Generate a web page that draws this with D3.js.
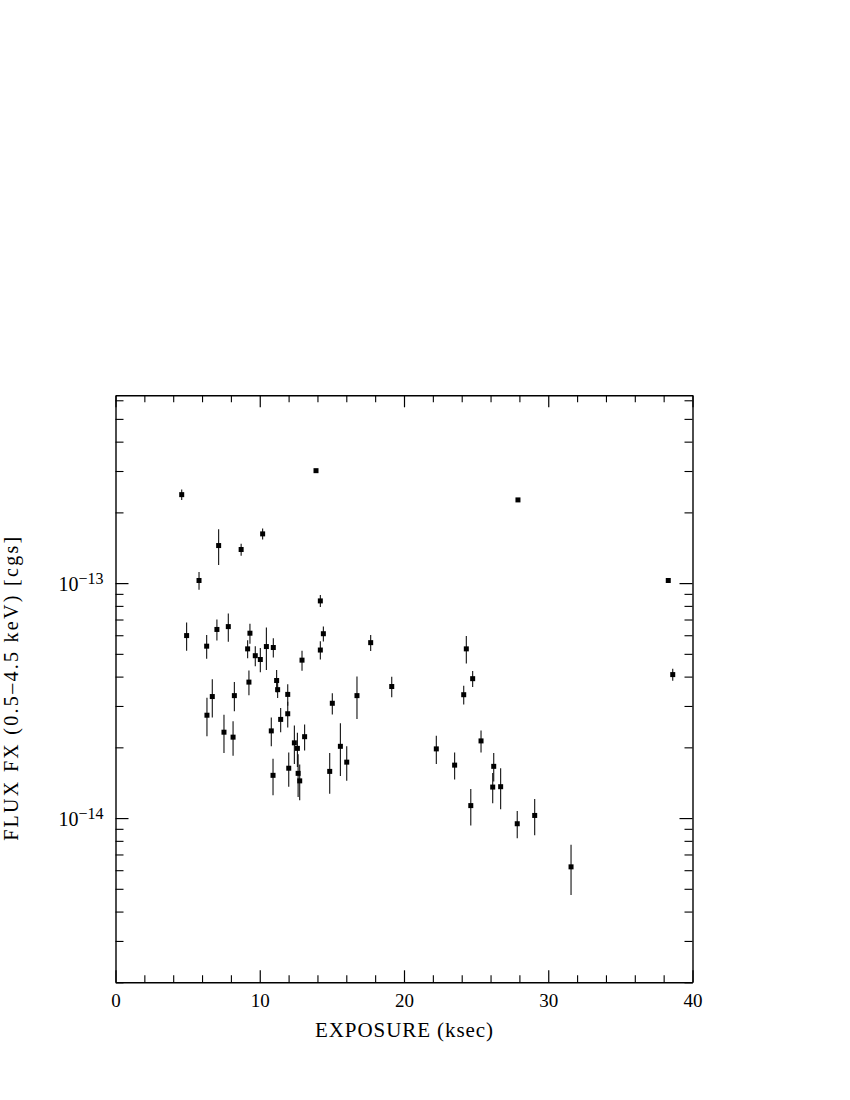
<!DOCTYPE html>
<html>
<head>
<meta charset="utf-8">
<script src="https://cdn.jsdelivr.net/npm/d3@7"></script>
<style>
  body { margin: 0; background: #fff; }
  svg { display: block; }
  text { font-family: "Liberation Serif", "DejaVu Serif", serif; fill: #000; }
</style>
</head>
<body>
<div id="chart"></div>
<script>
// exposure in ksec, flux and its error in units of 1e-14 cgs
var exposure = [4.59, 13.90, 27.90, 7.15, 8.71, 10.20, 5.79, 38.32, 14.20,
  4.93, 7.03, 7.82, 6.32, 9.32, 9.16, 9.69, 10.04, 10.46, 10.94, 12.93, 14.20, 14.41, 17.69, 19.15,
  9.25, 11.17, 11.24, 11.94, 6.71, 8.24, 6.34, 11.94, 11.45, 15.03, 16.74,
  7.52, 8.15, 10.80, 13.11, 12.40, 12.61, 15.59, 16.03, 12.01, 10.92, 12.66, 12.77, 14.85,
  38.63, 24.32, 24.76, 24.14, 25.34, 22.24, 23.51, 26.22, 26.15, 26.70, 24.63, 27.85, 29.06, 31.58];
var flux = [23.8, 30.1, 22.6, 14.45, 13.9, 16.2, 10.26, 10.26, 8.4,
  5.98, 6.35, 6.53, 5.39, 6.12, 5.25, 4.91, 4.73, 5.37, 5.32, 4.70, 5.19, 6.09, 5.58, 3.63,
  3.79, 3.85, 3.52, 3.36, 3.29, 3.32, 2.74, 2.78, 2.63, 3.08, 3.32,
  2.32, 2.21, 2.35, 2.22, 2.09, 1.98, 2.02, 1.73, 1.63, 1.52, 1.55, 1.44, 1.58,
  4.08, 5.25, 3.92, 3.35, 2.13, 1.97, 1.68, 1.66, 1.355, 1.36, 1.13, 0.946, 1.026, 0.62];
var fluxErr = [1.2, 0.5, 0.4, 2.5, 0.82, 0.87, 0.9, 0.2, 0.49,
  0.82, 0.65, 0.9, 0.63, 0.6, 0.46, 0.48, 0.56, 1.1, 0.5, 0.46, 0.46, 0.45, 0.44, 0.36,
  0.46, 0.42, 0.28, 0.35, 0.61, 0.47, 0.51, 0.35, 0.31, 0.32, 0.68,
  0.43, 0.37, 0.33, 0.28, 0.39, 0.33, 0.51, 0.29, 0.27, 0.27, 0.32, 0.25, 0.31,
  0.24, 0.7, 0.31, 0.31, 0.23, 0.27, 0.22, 0.23, 0.2, 0.27, 0.2, 0.125, 0.18, 0.15];

var xMajor = [0, 10, 20, 30, 40];
var xMinor = [2, 4, 6, 8, 12, 14, 16, 18, 22, 24, 26, 28, 32, 34, 36, 38];
var yMajor = [1e-14, 1e-13];
var yMajorExp = ["\u221214", "\u221213"];
var yMinor = [2e-15, 3e-15, 4e-15, 5e-15, 6e-15, 7e-15, 8e-15, 9e-15,
  2e-14, 3e-14, 4e-14, 5e-14, 6e-14, 7e-14, 8e-14, 9e-14,
  2e-13, 3e-13, 4e-13, 5e-13, 6e-13];

var xTitle = "EXPOSURE (ksec)";
var yTitle = "FLUX FX (0.5\u20134.5 keV) [cgs]";

var W = 850, H = 1100;
var plotL = 115.5, plotR = 692.5, plotT = 395.3, plotB = 982.3;

var svg = d3.select("#chart").append("svg")
  .attr("width", W)
  .attr("height", H);

var x = d3.scaleLinear().domain([0, 40]).range([plotL, plotR]);
var y = d3.scaleLog().domain([2e-15, 6.3e-13]).range([plotB, plotT]);

var data = exposure.map(function (e, i) {
  return { exp: e, f: flux[i] * 1e-14, err: fluxErr[i] * 1e-14 };
});

// axes: major + minor ticks on all four sides, pointing inward
function frame(axisFn, scale, pos, major, minor, majLen, minLen) {
  var g = svg.append("g").attr("transform", pos);
  g.call(axisFn(scale).tickValues(minor).tickSize(-minLen).tickSizeOuter(0).tickFormat(""));
  var gm = svg.append("g").attr("transform", pos);
  gm.call(axisFn(scale).tickValues(major).tickSize(-majLen).tickSizeOuter(0).tickFormat(""));
  g.selectAll("line").attr("stroke", "#000").attr("stroke-width", 1.1);
  gm.selectAll("line").attr("stroke", "#000").attr("stroke-width", 1.2);
  g.select(".domain").attr("stroke", "#000").attr("stroke-width", 1.4);
  gm.select(".domain").remove();
  return gm;
}

var gBottom = frame(d3.axisBottom, x, "translate(0," + plotB + ")", xMajor, xMinor, 12, 7);
frame(d3.axisTop, x, "translate(0," + plotT + ")", xMajor, xMinor, 12, 7);
var gLeft = frame(d3.axisLeft, y, "translate(" + plotL + ",0)", yMajor, yMinor, 13, 8);
frame(d3.axisRight, y, "translate(" + plotR + ",0)", yMajor, yMinor, 13, 8);

gBottom.selectAll(".tick").append("text")
  .attr("y", 25)
  .attr("text-anchor", "middle")
  .style("font-size", "19px")
  .text(function (d) { return d; });

var yl = gLeft.selectAll(".tick").append("text")
  .attr("x", -12)
  .attr("y", 7)
  .attr("text-anchor", "end")
  .style("font-size", "20px");
yl.append("tspan").text("10");
yl.append("tspan")
  .attr("dy", -7)
  .style("font-size", "16px")
  .text(function (d, i) { return yMajorExp[i]; });

// error bars
svg.append("g").selectAll("line")
  .data(data)
  .enter().append("line")
  .attr("x1", function (d) { return x(d.exp); })
  .attr("x2", function (d) { return x(d.exp); })
  .attr("y1", function (d) { return y(d.f - d.err); })
  .attr("y2", function (d) { return y(d.f + d.err); })
  .attr("stroke", "#111")
  .attr("stroke-width", 1.1);

// points
var sz = 5;
svg.append("g").selectAll("rect")
  .data(data)
  .enter().append("rect")
  .attr("x", function (d) { return x(d.exp) - sz / 2; })
  .attr("y", function (d) { return y(d.f) - sz / 2; })
  .attr("width", sz)
  .attr("height", sz)
  .attr("fill", "#000");

// titles
svg.append("text")
  .attr("x", (plotL + plotR) / 2)
  .attr("y", 1037)
  .attr("text-anchor", "middle")
  .attr("textLength", 178)
  .attr("lengthAdjust", "spacing")
  .style("font-size", "21px")
  .text(xTitle);

svg.append("text")
  .attr("transform", "translate(18," + ((plotT + plotB) / 2) + ") rotate(-90)")
  .attr("text-anchor", "middle")
  .attr("textLength", 304)
  .attr("lengthAdjust", "spacing")
  .style("font-size", "20px")
  .text(yTitle);
</script>
</body>
</html>
